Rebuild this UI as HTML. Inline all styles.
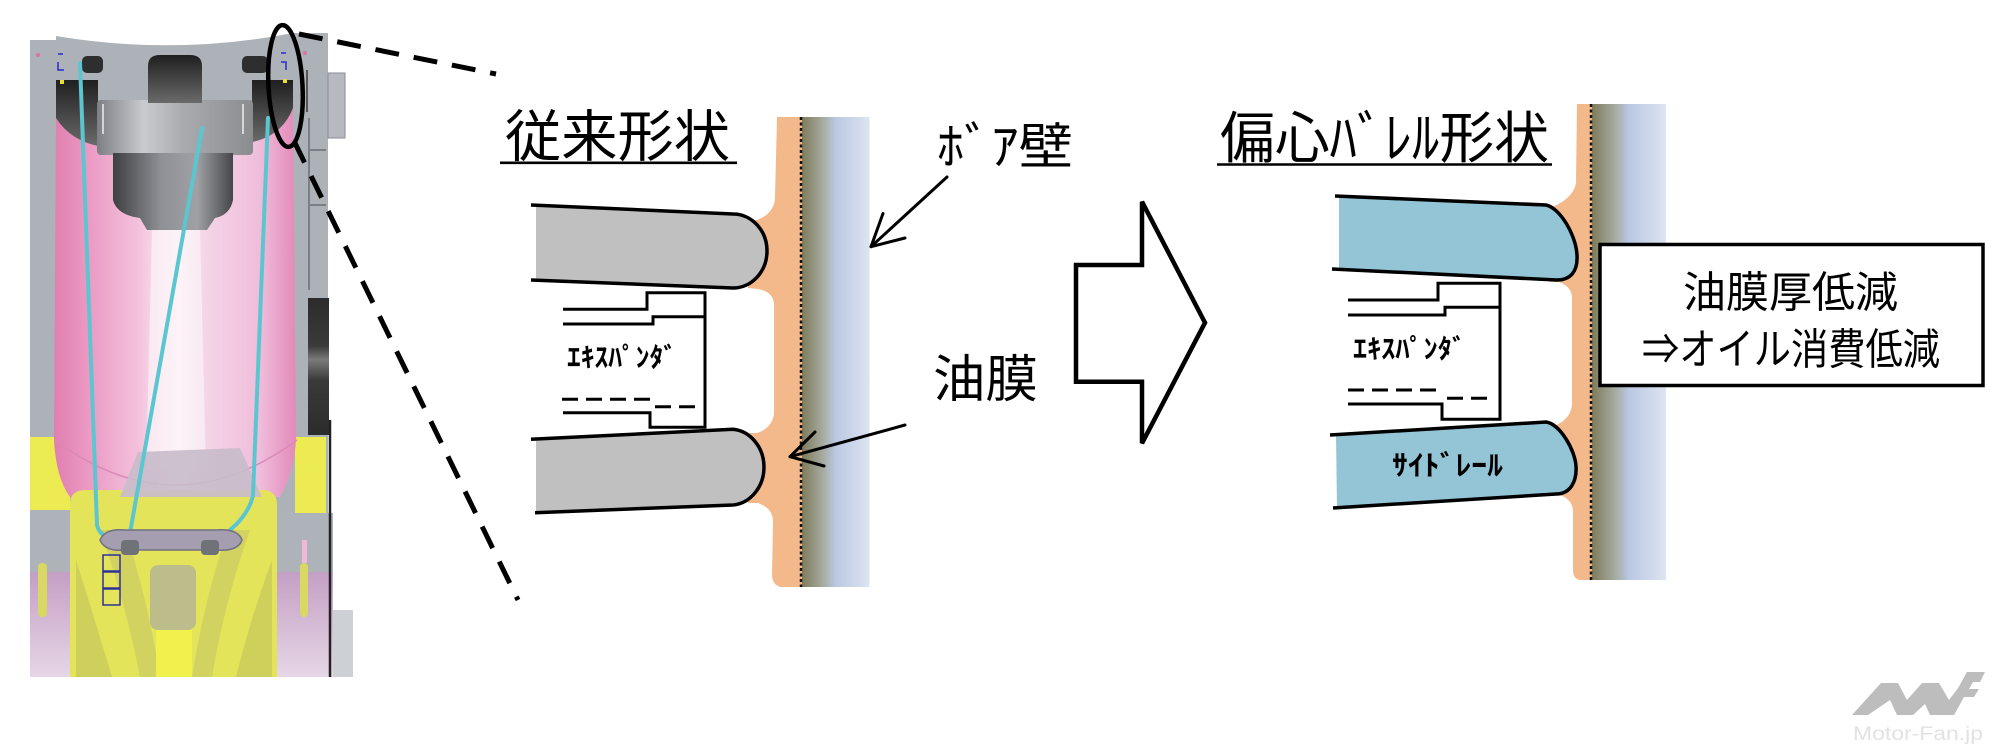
<!DOCTYPE html>
<html><head><meta charset="utf-8"><style>
html,body{margin:0;padding:0;background:#fff;}
svg{display:block;}
text{font-family:"Liberation Sans","Noto Sans CJK JP",sans-serif;}
</style></head><body>
<svg width="1995" height="752" viewBox="0 0 1995 752" xmlns="http://www.w3.org/2000/svg">
<defs>
 <linearGradient id="wall" x1="0" x2="1" y1="0" y2="0">
  <stop offset="0" stop-color="#7e7c5c"/>
  <stop offset="0.3" stop-color="#a5a99e"/>
  <stop offset="0.5" stop-color="#bac8e2"/>
  <stop offset="1" stop-color="#dde4f1"/>
 </linearGradient>
 <linearGradient id="pink" x1="0" x2="1" y1="0" y2="0">
  <stop offset="0" stop-color="#e07fb0"/>
  <stop offset="0.15" stop-color="#eb9bc4"/>
  <stop offset="0.35" stop-color="#f3c2dc"/>
  <stop offset="0.47" stop-color="#fbe9f3"/>
  <stop offset="0.52" stop-color="#fdf3f9"/>
  <stop offset="0.62" stop-color="#f5d5e8"/>
  <stop offset="0.85" stop-color="#efbdda"/>
  <stop offset="1" stop-color="#e389b9"/>
 </linearGradient>
 <linearGradient id="boss" x1="0" x2="1" y1="0" y2="0">
  <stop offset="0" stop-color="#7d7f84"/>
  <stop offset="0.3" stop-color="#c9cbcf"/>
  <stop offset="0.55" stop-color="#a9abaf"/>
  <stop offset="1" stop-color="#8a8c90"/>
 </linearGradient>
 <linearGradient id="skirt" x1="0" x2="1" y1="0" y2="0">
  <stop offset="0" stop-color="#3e3f42"/>
  <stop offset="0.4" stop-color="#8e9095"/>
  <stop offset="0.7" stop-color="#9fa1a5"/>
  <stop offset="1" stop-color="#45464a"/>
 </linearGradient>
 <linearGradient id="dark" x1="0" x2="0" y1="0" y2="1">
  <stop offset="0" stop-color="#1f1f1f"/>
  <stop offset="1" stop-color="#6a6a6a"/>
 </linearGradient>
 <linearGradient id="purp" x1="0" x2="0" y1="0" y2="1">
  <stop offset="0" stop-color="#c49fc4"/>
  <stop offset="1" stop-color="#e6d6e6"/>
 </linearGradient>
 <linearGradient id="rdark" x1="0" x2="0" y1="0" y2="1">
  <stop offset="0" stop-color="#2c2c2c"/>
  <stop offset="0.35" stop-color="#3a3a3a"/>
  <stop offset="0.45" stop-color="#7a7a7a"/>
  <stop offset="0.6" stop-color="#3a3a3a"/>
  <stop offset="1" stop-color="#2c2c2c"/>
 </linearGradient>
</defs>

<!-- ================= LEFT PHOTO ================= -->
<path d="M30,40 L56,40 L56,36 Q175,56 293,33 L328,33 L328,514 L30,514 Z" fill="#adb2b9"/>
<rect x="30" y="437" width="40" height="74" fill="#ecec52"/>
<rect x="295" y="437" width="31" height="76" fill="#ecec52"/>
<path d="M56,112 L293,108 L296,440 Q294,472 280,497 L70,497 Q56,478 54,440 Z" fill="url(#pink)"/>
<path d="M55,440 Q175,530 297,440" fill="none" stroke="#d98ab8" stroke-width="1.5"/>
<path d="M152,230 L200,230 L206,470 L146,470 Z" fill="#fbf2f7" opacity="0.7"/>
<path d="M56,80 L98,80 L98,146 Q70,140 56,118 Z" fill="url(#dark)"/>
<path d="M252,80 L293,80 L293,108 Q282,136 252,142 Z" fill="url(#dark)"/>
<rect x="82" y="56" width="21" height="17" rx="5" fill="#2e2e2e"/>
<rect x="242" y="56" width="26" height="17" rx="5" fill="#2e2e2e"/>
<rect x="97" y="100" width="156" height="55" rx="4" fill="url(#boss)"/>
<line x1="103" y1="104" x2="103" y2="134" stroke="#eee" stroke-width="1.5"/>
<line x1="243" y1="104" x2="243" y2="134" stroke="#eee" stroke-width="1.5"/>
<path d="M148,103 L148,66 Q148,55 160,55 L190,55 Q202,55 202,66 L202,103 Z" fill="url(#dark)"/>
<path d="M113,153 L233,153 L233,200 Q230,215 215,218 L207,230 L147,230 L140,218 Q117,215 113,200 Z" fill="url(#skirt)"/>
<path d="M70,505 Q70,490 85,490 L262,490 Q277,490 277,505 L277,677 L70,677 Z" fill="#e4e45a"/>
<path d="M76,560 Q95,620 112,677 L76,677 Z" fill="#cfcf5c"/>
<path d="M272,560 Q250,620 236,677 L272,677 Z" fill="#cfcf5c"/>
<path d="M100,530 Q125,600 140,677 L160,677 Q148,600 125,530 Z" fill="#d2d260"/>
<path d="M250,530 Q225,600 212,677 L192,677 Q204,600 228,530 Z" fill="#d2d260"/>
<rect x="150" y="565" width="46" height="65" rx="8" fill="#bdbd8c"/>
<rect x="156" y="630" width="36" height="47" fill="#f1f14e"/>
<path d="M120,497 L138,452 L240,448 L262,497 Z" fill="#c9bccb" opacity="0.92"/>
<rect x="30" y="510" width="40" height="62" fill="#aeb3ba"/>
<rect x="277" y="513" width="56" height="59" fill="#aeb3ba"/>
<rect x="30" y="572" width="40" height="105" fill="url(#purp)"/>
<rect x="277" y="572" width="56" height="105" fill="url(#purp)"/>
<rect x="333" y="610" width="20" height="67" fill="#cdd0d4"/>
<rect x="38" y="563" width="9" height="54" rx="4" fill="#d8d862"/>
<rect x="300" y="563" width="8" height="54" rx="4" fill="#d8d862"/>
<rect x="302" y="540" width="5" height="23" fill="#f2b8d8"/>
<rect x="328" y="73" width="17" height="65" fill="#b6bac0" stroke="#8a8e94" stroke-width="1"/>
<line x1="307" y1="70" x2="307" y2="112" stroke="#555" stroke-width="2"/>
<line x1="309" y1="118" x2="309" y2="290" stroke="#7b8087" stroke-width="2"/>
<line x1="309" y1="150" x2="326" y2="150" stroke="#7b8087" stroke-width="2"/>
<line x1="309" y1="205" x2="326" y2="205" stroke="#7b8087" stroke-width="2"/>
<rect x="308" y="298" width="21" height="137" fill="url(#rdark)"/>
<line x1="330" y1="420" x2="330" y2="677" stroke="#222" stroke-width="2.5"/>
<circle cx="38" cy="55" r="2" fill="#e070a0"/>
<circle cx="305" cy="53" r="2" fill="#e070a0"/>
<path d="M58,54 h5 M58,62 v8 h6 M281,53 h5 M281,62 h5 v8" stroke="#2a2ad0" stroke-width="1.5" fill="none"/>
<rect x="60" y="80" width="4" height="4" fill="#e8e030"/>
<rect x="283" y="79" width="4" height="4" fill="#e8e030"/>
<g fill="none" stroke="#5cc6d0" stroke-width="4" stroke-linecap="round">
 <path d="M80,63 L97,525 Q100,540 128,543"/>
 <path d="M202,128 L130,533"/>
 <path d="M268,118 L253,495 Q248,520 216,540"/>
</g>
<path d="M100,540 Q105,528 125,530 L215,530 Q238,528 242,540 Q238,552 215,550 L125,550 Q105,552 100,540 Z" fill="#a59db0" stroke="#707080" stroke-width="1.5"/>
<rect x="121" y="540" width="18" height="15" rx="4" fill="#6f7378"/>
<rect x="201" y="540" width="18" height="15" rx="4" fill="#6f7378"/>
<g fill="none" stroke="#30309a" stroke-width="1.5">
 <rect x="103" y="555" width="17" height="16"/>
 <rect x="103" y="572" width="17" height="16"/>
 <rect x="103" y="589" width="17" height="16"/>
</g>
<ellipse cx="285.5" cy="86" rx="17" ry="61" fill="none" stroke="#000" stroke-width="4.5" transform="rotate(-3 285.5 86)"/>
<g stroke="#000" stroke-width="5" stroke-dasharray="24 15" fill="none">
 <path d="M299,34 L496,74"/>
 <path d="M294,141 L518,600"/>
</g>

<!-- ================= LEFT DIAGRAM ================= -->
<text x="505" y="156.5" font-size="56" textLength="225" lengthAdjust="spacingAndGlyphs">従来形状</text>
<line x1="500" y1="162.8" x2="737" y2="162.8" stroke="#000" stroke-width="2.6"/>

<path d="M777,117 L802,117 L802,587 L782,587 Q772,586 772,574 L773,522 C773,512 768,507 758,503 L748,503 L748,433 L757,433 C767,430 774,422 774,412 L774,305 C774,296 768,291 758,289 L748,288 L748,220 L757,220 C768,216 775,208 775,197 Z" fill="#f3b98b"/>
<rect x="802" y="117" width="67.5" height="470" fill="url(#wall)"/>
<line x1="801" y1="117" x2="801" y2="587" stroke="#111" stroke-width="2.5" stroke-dasharray="3 2.5"/>

<path d="M536,205 L733,214 A34,37 0 0 1 733,288 L536,280 Z" fill="#c0c0c0"/>
<path d="M531,205 L733,214 A34,37 0 0 1 733,288 L531,280" fill="none" stroke="#000" stroke-width="3.5"/>
<path d="M536,439 L733,429.3 A34,38 0 0 1 733,505 L536,512.7 Z" fill="#c0c0c0"/>
<path d="M531,439.3 L733,429.3 A34,38 0 0 1 733,505 L535,512.7" fill="none" stroke="#000" stroke-width="3.5"/>
<g fill="none" stroke="#000" stroke-width="3">
 <path d="M563,309.3 H647 V292.7 H705 V427.3 H650 V412.7 H563"/>
 <path d="M563,324 H653 V316.7 H705"/>
 <path d="M562,399.3 H652" stroke-dasharray="16 8"/>
 <path d="M655,406.7 H695" stroke-dasharray="16 8"/>
</g>
<text x="567" y="367" font-size="27" font-weight="700" textLength="110" lengthAdjust="spacingAndGlyphs">ｴｷｽﾊﾟﾝﾀﾞ</text>

<text x="937" y="164" font-size="50" textLength="136" lengthAdjust="spacingAndGlyphs">ﾎﾞｱ壁</text>
<text x="933" y="397" font-size="51" textLength="105" lengthAdjust="spacingAndGlyphs">油膜</text>
<g fill="none" stroke="#000" stroke-width="3" stroke-linecap="round" stroke-linejoin="round">
 <path d="M947,177 L871,246.7"/>
 <path d="M883,213.5 L871,246.7 L905,238"/>
 <path d="M905,425 L790,456.7"/>
 <path d="M815,432 L790,456.7 L824,466"/>
</g>

<path d="M1076,265 L1142,265 L1142,201.7 L1205,322.7 L1142,443.3 L1142,381.7 L1076,381.7 Z" fill="#fff" stroke="#000" stroke-width="4.5" stroke-linejoin="miter"/>

<!-- ================= RIGHT DIAGRAM ================= -->
<text x="1220" y="158" font-size="56" textLength="329" lengthAdjust="spacingAndGlyphs">偏心ﾊﾞﾚﾙ形状</text>
<line x1="1217" y1="164.5" x2="1552" y2="164.5" stroke="#000" stroke-width="2.6"/>

<path d="M1577,104 L1592,104 L1592,580 L1580,580 Q1573,579 1573,570 L1573,512 C1573,503 1568,498 1560,495 L1550,495 L1550,425 L1556,425 C1566,421 1572,413 1572,403 L1572,298 C1572,290 1567,285 1559,282 L1550,282 L1550,208 L1552,207 C1565,202 1575,193 1576,182 Z" fill="#f3b98b"/>
<rect x="1592" y="104" width="74" height="476" fill="url(#wall)"/>
<line x1="1591" y1="104" x2="1591" y2="580" stroke="#111" stroke-width="2.5" stroke-dasharray="3 2.5"/>

<path d="M1339,196.2 L1546,205 C1560,208 1576,235 1577,255 C1578,272 1570,280 1557,280 L1339,269.4 Z" fill="#93c5d6"/>
<path d="M1335,196 L1546,205 C1560,208 1576,235 1577,255 C1578,272 1570,280 1557,280 L1332,269" fill="none" stroke="#000" stroke-width="3.5"/>
<path d="M1336,434.7 L1546,422 C1560,424 1575,450 1576,466 C1577,482 1570,494 1556,494 L1337,507.8 Z" fill="#93c5d6"/>
<path d="M1330,435 L1546,422 C1560,424 1575,450 1576,466 C1577,482 1570,494 1556,494 L1333,508" fill="none" stroke="#000" stroke-width="3.5"/>
<g fill="none" stroke="#000" stroke-width="3">
 <path d="M1348,300 H1438 V283.3 H1500 V419.3 H1442 V404 H1348"/>
 <path d="M1348,315 H1445 V307.3 H1500"/>
 <path d="M1348,390 H1442" stroke-dasharray="16 8"/>
 <path d="M1447,398.3 H1488" stroke-dasharray="16 8"/>
</g>
<text x="1353" y="358.5" font-size="27" font-weight="700" textLength="113" lengthAdjust="spacingAndGlyphs">ｴｷｽﾊﾟﾝﾀﾞ</text>
<text x="1392" y="475" font-size="28" font-weight="700" textLength="111" lengthAdjust="spacingAndGlyphs">ｻｲﾄﾞﾚｰﾙ</text>

<rect x="1600" y="244.5" width="383" height="141" fill="#fff" stroke="#000" stroke-width="3.5"/>
<text x="1683" y="307.5" font-size="43" textLength="215" lengthAdjust="spacingAndGlyphs">油膜厚低減</text>
<text x="1642" y="364.5" font-size="43" textLength="298" lengthAdjust="spacingAndGlyphs">⇒オイル消費低減</text>

<!-- ================= LOGO ================= -->
<g fill="#bdbdbd">
 <path d="M1852,715 L1881,683 L1898,683 L1907,700 L1922,683 L1939,683 L1949,700 L1962,683 L1966,683 L1945,715 L1930,715 L1925,704 L1913,715 L1897,715 L1890,700 L1868,715 Z"/>
 <path d="M1943,715 L1967,672 L1985,672 L1980,682 L1973,682 L1969,689 L1979,689 L1974,697 L1964,697 L1954,715 Z"/>
</g>
<text x="1853" y="740" font-size="19" fill="#e2e2e2" textLength="130" lengthAdjust="spacingAndGlyphs">Motor-Fan.jp</text>
</svg>
</body></html>
